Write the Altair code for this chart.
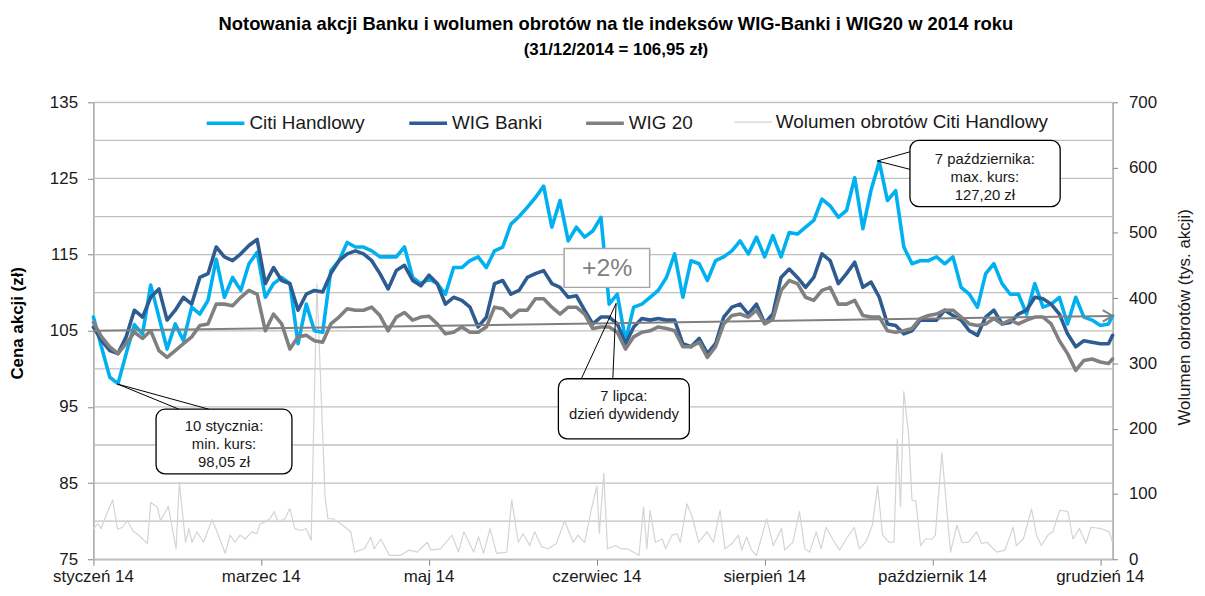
import altair as alt
import pandas as pd

FONT = "Liberation Sans, Arial, sans-serif"
NARROW = "Liberation Sans Narrow, Arial Narrow, Liberation Sans, sans-serif"

# ---------------- data ----------------
price_names = ["Citi Handlowy", "WIG Banki", "WIG 20"]
price_colors = ["#00B0F0", "#2E5C91", "#808080"]
volume_name = "Wolumen obrotów Citi Handlowy"
volume_color = "#D4D4D4"

# trading-day index (0 = first session of 2014), sampled every 2 sessions
price_days = list(range(0, 249, 2)) + [249]

citi = [
    106.8, 102.8, 98.9, 98.05, 102.0, 105.8, 104.6, 111.0, 106.8, 102.6,
    105.9, 103.7, 108.1, 107.2, 109.0, 114.4, 109.4, 112.0, 110.3, 113.8,
    115.3, 109.4, 111.2, 112.0, 111.2, 103.3, 108.5, 105.0, 104.8, 112.9,
    114.2, 116.6, 116.0, 116.0, 115.5, 114.7, 114.7, 114.7, 116.0, 112.0,
    111.2, 111.8, 111.2, 109.8, 113.3, 113.3, 114.2, 114.7, 113.3, 115.5,
    116.0, 119.0, 120.0, 121.2, 122.5, 124.0, 118.6, 122.1, 116.8, 118.6,
    117.3, 118.1, 119.9, 108.5, 109.8, 103.7, 108.1, 108.5, 109.4, 110.3,
    112.0, 115.1, 109.4, 114.2, 113.8, 111.6, 114.2, 114.7, 115.5, 116.8,
    115.1, 117.3, 114.7, 117.5, 114.7, 117.9, 117.7, 118.6, 119.5, 122.3,
    121.4, 119.9, 120.8, 125.1, 118.4, 123.5, 127.2, 122.1, 123.4, 116.0,
    113.8, 114.2, 114.2, 114.7, 113.8, 114.7, 110.7, 109.8, 108.1, 112.5,
    113.8, 111.2, 109.8, 109.8, 107.2, 111.2, 108.1, 108.5, 109.4, 105.9,
    109.4, 106.8, 106.4, 105.7, 105.9,
    106.95,
]

wig_banki = [
    105.5, 103.7, 102.4, 102.0, 104.2, 107.7, 106.8, 109.4, 110.5, 106.4,
    107.7, 109.4, 108.5, 112.0, 112.5, 116.0, 114.7, 114.2, 115.1, 116.2,
    117.0, 111.2, 113.3, 111.6, 111.2, 107.7, 109.8, 110.3, 110.1, 112.5,
    114.2, 115.1, 115.5, 115.1, 114.2, 112.5, 110.5, 112.9, 113.6, 111.6,
    110.9, 112.3, 111.2, 108.5, 109.4, 109.0, 108.1, 105.5, 106.8, 111.2,
    111.6, 109.8, 110.3, 112.0, 112.5, 112.9, 111.2, 110.7, 109.4, 109.6,
    107.7, 105.9, 106.8, 106.8, 105.9, 103.3, 105.5, 106.6, 106.4, 106.6,
    106.4, 106.4, 103.3, 102.9, 104.0, 102.0, 103.3, 106.8, 108.1, 108.5,
    107.2, 108.5, 106.0, 107.2, 112.0, 113.1, 112.0, 110.7, 112.0, 115.1,
    114.2, 111.2, 112.5, 114.0, 110.7, 111.4, 109.4, 105.9, 105.7, 104.6,
    105.0, 106.4, 106.4, 106.4, 107.7, 107.0, 106.4, 105.0, 104.4, 106.8,
    107.7, 105.9, 106.1, 107.2, 107.7, 109.4, 109.2, 108.5, 107.2, 104.6,
    102.9, 103.7, 103.5, 103.3, 103.3,
    104.4,
]

wig20 = [
    106.1, 104.2, 102.9, 102.0, 103.3, 104.8, 104.0, 105.0, 102.4, 101.5,
    102.4, 103.3, 104.2, 105.7, 105.9, 108.5, 108.5, 108.3, 109.4, 110.3,
    109.8, 105.0, 107.2, 105.9, 102.6, 104.2, 104.4, 103.7, 103.5, 105.9,
    106.8, 107.9, 107.7, 107.7, 108.1, 107.0, 105.0, 106.8, 107.4, 106.4,
    106.8, 106.9, 105.9, 104.6, 104.8, 105.5, 104.8, 104.8, 105.5, 108.1,
    107.9, 106.8, 107.7, 107.7, 109.2, 109.2, 108.1, 107.2, 108.1, 108.1,
    107.2, 105.3, 105.5, 105.5, 104.8, 102.6, 104.2, 104.8, 105.0, 105.5,
    105.3, 105.0, 102.9, 102.9, 103.5, 101.5, 102.9, 105.9, 107.0, 107.2,
    106.8, 107.7, 105.9, 106.5, 110.3, 111.6, 111.2, 109.4, 109.0, 110.3,
    110.7, 108.5, 108.5, 109.0, 107.0, 106.8, 106.8, 105.0, 104.8, 105.0,
    105.3, 106.6, 107.0, 107.2, 107.7, 107.7, 106.8, 105.9, 105.7, 105.9,
    106.6, 105.9, 106.4, 105.9, 106.4, 106.8, 106.8, 105.9, 103.7, 102.0,
    99.8, 101.1, 101.3, 100.9, 100.7,
    101.3,
]

# volume (thousand shares), vertices of the jagged line
vol_days = [
    0, 1.0, 1.9, 3.1, 4.7, 5.9, 7.1, 8.3, 9.6, 11.2, 13.2, 14.0, 15.6, 16.4, 18.3,
    20.2, 21.0, 22.5, 23.3, 24.1, 25.3, 26.9, 29.0, 30.2, 32.2, 33.4, 34.6, 35.8,
    37.1, 38.7, 39.9, 40.7, 41.9, 43.1, 44.2, 45.1, 46.8, 48.0, 49.2, 50.8, 52.0,
    53.2, 54.6, 56.6, 57.3, 58.5, 60.5, 62.9, 63.8, 66.2, 67.8, 68.6, 70.2, 72.3,
    75.1, 77.1, 79.1, 81.6, 82.4, 84.8, 87.6, 89.2, 90.5, 92.9, 94.1, 95.3, 96.9,
    98.5, 101.0, 102.2, 103.8, 105.0, 106.6, 107.8, 109.5, 111.1, 113.1, 115.1,
    117.2, 118.4, 120.0, 121.6, 123.0, 123.6, 124.7, 125.6, 127.6, 128.9, 130.5,
    133.3, 134.4, 135.2, 136.0, 137.3, 139.0, 139.8, 141.4, 142.6, 143.4, 145.0,
    146.2, 147.9, 149.9, 151.5, 153.1, 154.3, 156.0, 157.6, 158.4, 159.6, 160.8,
    162.0, 164.5, 166.1, 168.1, 168.9, 170.9, 172.5, 173.8, 175.0, 176.6, 177.8,
    179.0, 180.6, 182.3, 183.9, 185.9, 187.1, 188.7, 190.3, 191.6, 192.8, 194.4,
    195.6, 196.4, 197.2, 198.0, 199.2, 200.0, 200.9, 202.1, 203.3, 204.9, 205.7,
    207.3, 209.4, 211.0, 212.2, 213.8, 215.8, 217.0, 218.3, 220.7, 222.7, 224.7,
    225.5, 227.2, 229.2, 230.4, 231.6, 233.2, 234.4, 236.1, 238.1, 239.3, 240.9,
    242.5, 243.7, 246.2, 248.2, 249.0,
]
vol_values = [
    46, 54, 47, 67, 91, 46, 49, 59, 44, 36, 24, 87, 80, 59, 81,
    16, 118, 26, 47, 26, 42, 26, 61, 42, 9, 37, 26, 37,
    31, 42, 39, 54, 57, 62, 73, 57, 62, 78, 47, 44, 47,
    29, 422, 95, 62, 62, 54, 42, 11, 16, 34, 16, 31, 6,
    6, 14, 11, 26, 14, 16, 37, 11, 42, 11, 34, 9, 47,
    9, 11, 91, 26, 39, 21, 42, 19, 16, 24, 59,
    26, 37, 26, 75, 112, 40, 132, 16, 21, 16, 16,
    6, 80, 16, 75, 26, 31, 16, 37, 39, 26, 85,
    67, 26, 42, 26, 75, 16, 24, 37, 14, 34, 14,
    6, 62, 21, 47, 14, 26, 73, 16, 11, 42, 16,
    49, 31, 14, 31, 49, 16, 26, 52, 112, 37, 26,
    26, 184, 80, 257, 189, 90, 90, 21, 31, 31, 37,
    163, 11, 52, 26, 26, 42, 24, 26, 11, 14, 49,
    21, 31, 77, 37, 21, 37, 42, 75, 73, 31, 47,
    24, 49, 47, 42, 26,
]

x_tick_days = [0, 41, 82, 123, 164, 205, 246]
x_tick_labels = ["styczeń 14", "marzec 14", "maj 14", "czerwiec 14",
                 "sierpień 14", "październik 14", "grudzień 14"]
left_label_ticks = list(range(75, 136, 10))
left_grid_values = list(range(75, 136, 5))
right_ticks = list(range(0, 701, 100))

# annotations (callouts in data coordinates: trading day / price)
callout_texts = ["10 stycznia:\nmin. kurs:\n98,05 zł",
                 "7 lipca:\ndzień dywidendy",
                 "7 października:\nmax. kurs:\n127,20 zł"]
callout_x = [15.3, 113.6, 199.5]
callout_x2 = [48.5, 145.6, 236.2]
callout_y = [86.2, 90.8, 121.3]
callout_y2 = [94.7, 98.7, 130.0]
callout_tx = [31.9, 129.6, 217.8]
callout_ty = [92.5, 96.4, 127.5]          # first text line
tail_x = [5.9, 5.9, 127.7, 127.7, 191.5, 191.5]
tail_y = [98.0, 98.0, 108.6, 108.6, 127.3, 127.3]
tail_x2 = [20.9, 28.2, 119.2, 126.9, 199.5, 199.5]
tail_y2 = [94.7, 94.7, 98.7, 98.7, 128.5, 126.2]
trend_days = [0, 249]
trend_values = [105.0, 106.95]
arrow_days = [246.6, 249, 246.6]
arrow_values = [107.7, 106.95, 106.2]
growth_label = "+2%"

# ---------------- frames ----------------
price_df = pd.DataFrame({
    "day": price_days * 3,
    "value": citi + wig_banki + wig20,
    "series": [n for n in price_names for _ in price_days],
})
vol_df = pd.DataFrame({"day": vol_days, "value": vol_values, "series": volume_name})
grid_df = pd.DataFrame({"g": left_grid_values})
xlab_df = pd.DataFrame({"day": x_tick_days, "label": x_tick_labels})
callout_df = pd.DataFrame({"x": callout_x, "x2": callout_x2, "y": callout_y, "y2": callout_y2,
                           "tx": callout_tx, "ty": callout_ty, "text": callout_texts})
tail_df = pd.DataFrame({"x": tail_x, "y": tail_y, "x2": tail_x2, "y2": tail_y2})
trend_df = pd.DataFrame({"day": trend_days, "value": trend_values})
arrow_df = pd.DataFrame({"day": arrow_days, "value": arrow_values, "o": [0, 1, 2]})
growth_df = pd.DataFrame({"x": [115.0], "x2": [135.9], "y": [110.7], "y2": [115.8],
                          "tx": [125.5], "ty": [113.2], "text": [growth_label]})

# ---------------- scales / axes ----------------
x_scale = alt.Scale(domain=[0, 249], nice=False, zero=False)
p_scale = alt.Scale(domain=[75, 135], nice=False, zero=False)
v_scale = alt.Scale(domain=[0, 700], nice=False)

x_axis = alt.Axis(orient="bottom", values=x_tick_days, labels=False, grid=False,
                  domainColor="#868686", tickColor="#868686", tickSize=6, title=None)
left_axis = alt.Axis(orient="left", values=left_label_ticks, grid=False,
                     domainColor="#868686", tickColor="#868686", tickSize=6, labelPadding=10,
                     labelFontSize=17, labelColor="#1a1a1a", labelFont=FONT, labelOverlap=False,
                     title="Cena akcji (zł)", titleFont=FONT, titleFontSize=17, titleFontWeight="bold",
                     titleColor="black", titleAngle=270, titleX=-76, titleY=222,
                     titleAlign="center", titleBaseline="middle")
right_axis = alt.Axis(orient="right", values=right_ticks, grid=False,
                      domainColor="#868686", tickColor="#868686", tickSize=5, labelPadding=11,
                      labelFontSize=17, labelColor="#1a1a1a", labelFont=FONT, labelOverlap=False,
                      title="Wolumen obrotów (tys. akcji)", titleFont=FONT, titleFontSize=17,
                      titleFontWeight="normal", titleColor="#1a1a1a", titleAngle=270,
                      titleX=72, titleY=216, titleAlign="center", titleBaseline="middle")

legend_common = dict(title=None, orient="none", direction="horizontal", symbolType="stroke",
                     symbolSize=1444, labelFontSize=19, labelFont=FONT, labelColor="#1a1a1a",
                     labelOffset=3, padding=0, labelLimit=500)
price_legend = alt.Legend(legendX=112, legendY=0, columnPadding=36, symbolStrokeWidth=3.6,
                          **legend_common)
vol_legend = alt.Legend(legendX=644, legendY=0, symbolStrokeWidth=1.2, **legend_common)

X = lambda f: alt.X(f, scale=x_scale, axis=x_axis)
YP = lambda f: alt.Y(f, scale=p_scale, axis=left_axis)

# ---------------- layers ----------------
grid = alt.Chart(grid_df).mark_rule(color="#BFBFBF", strokeWidth=1.3).encode(
    y=alt.Y("g:Q", scale=p_scale, axis=None),
)

vol_layer = alt.Chart(vol_df).mark_line(strokeWidth=1.2, strokeJoin="round").encode(
    x=X("day:Q"),
    y=alt.Y("value:Q", scale=v_scale, axis=right_axis),
    color=alt.Color("series:N", scale=alt.Scale(domain=[volume_name], range=[volume_color]),
                    legend=vol_legend),
)

price_lines = alt.Chart(price_df).mark_line(strokeWidth=3.6, strokeJoin="round", strokeCap="round").encode(
    x=X("day:Q"),
    y=YP("value:Q"),
    color=alt.Color("series:N", scale=alt.Scale(domain=price_names, range=price_colors),
                    legend=price_legend),
)

x_labels = alt.Chart(xlab_df).mark_text(fontSize=17, font=FONT, color="#1a1a1a",
                                        align="center", baseline="middle").encode(
    x=X("day:Q"),
    y=alt.value(478),
    text="label:N",
)

trend = alt.Chart(trend_df).mark_line(color="#808080", strokeWidth=2).encode(
    x=X("day:Q"), y=YP("value:Q"),
)
arrow = alt.Chart(arrow_df).mark_line(color="#808080", strokeWidth=2).encode(
    x=X("day:Q"), y=YP("value:Q"), order="o:Q",
)
tails = alt.Chart(tail_df).mark_rule(color="black", strokeWidth=1).encode(
    x=X("x:Q"), x2="x2:Q", y=YP("y:Q"), y2="y2:Q",
)
boxes = alt.Chart(callout_df).mark_rect(cornerRadius=9, fill="white", stroke="black", strokeWidth=1.3).encode(
    x=X("x:Q"), x2="x2:Q", y=YP("y:Q"), y2="y2:Q",
)
box_text = alt.Chart(callout_df).mark_text(lineBreak="\n", fontSize=15, lineHeight=18, font=FONT,
                                           color="#1a1a1a", align="center", baseline="middle").encode(
    x=X("tx:Q"), y=YP("ty:Q"), text="text:N",
)
growth_box = alt.Chart(growth_df).mark_rect(fill="white", stroke="#A6A6A6", strokeWidth=1.5).encode(
    x=X("x:Q"), x2="x2:Q", y=YP("y:Q"), y2="y2:Q",
)
growth_text = alt.Chart(growth_df).mark_text(fontSize=25, font=FONT, color="#808080",
                                             align="center", baseline="middle").encode(
    x=X("tx:Q"), y=YP("ty:Q"), text="text:N",
)

price_layer = alt.layer(price_lines, trend, arrow, tails, boxes, box_text, growth_box, growth_text,
                        x_labels)

title = alt.TitleParams(
    text="Notowania akcji Banku i wolumen obrotów na tle indeksów WIG-Banki i WIG20 w 2014 roku",
    subtitle="(31/12/2014 = 106,95 zł)",
    font=NARROW, fontSize=18.5, fontWeight="bold", color="black",
    subtitleFont=NARROW, subtitleFontSize=17, subtitleFontWeight="bold", subtitleColor="black",
    anchor="middle", frame="group", dx=13, offset=36, subtitlePadding=8,
)

chart = alt.layer(grid, vol_layer, price_layer).resolve_scale(
    y="independent", color="independent"
).properties(
    width=1026, height=460, title=title,
    autosize=alt.AutoSizeParams(type="none"),
    padding={"left": 86, "top": 93, "right": 85, "bottom": 27},
).configure_view(stroke=None).configure(font=FONT)

chart.save("out.html", embed_options={"renderer": "svg", "actions": False})
